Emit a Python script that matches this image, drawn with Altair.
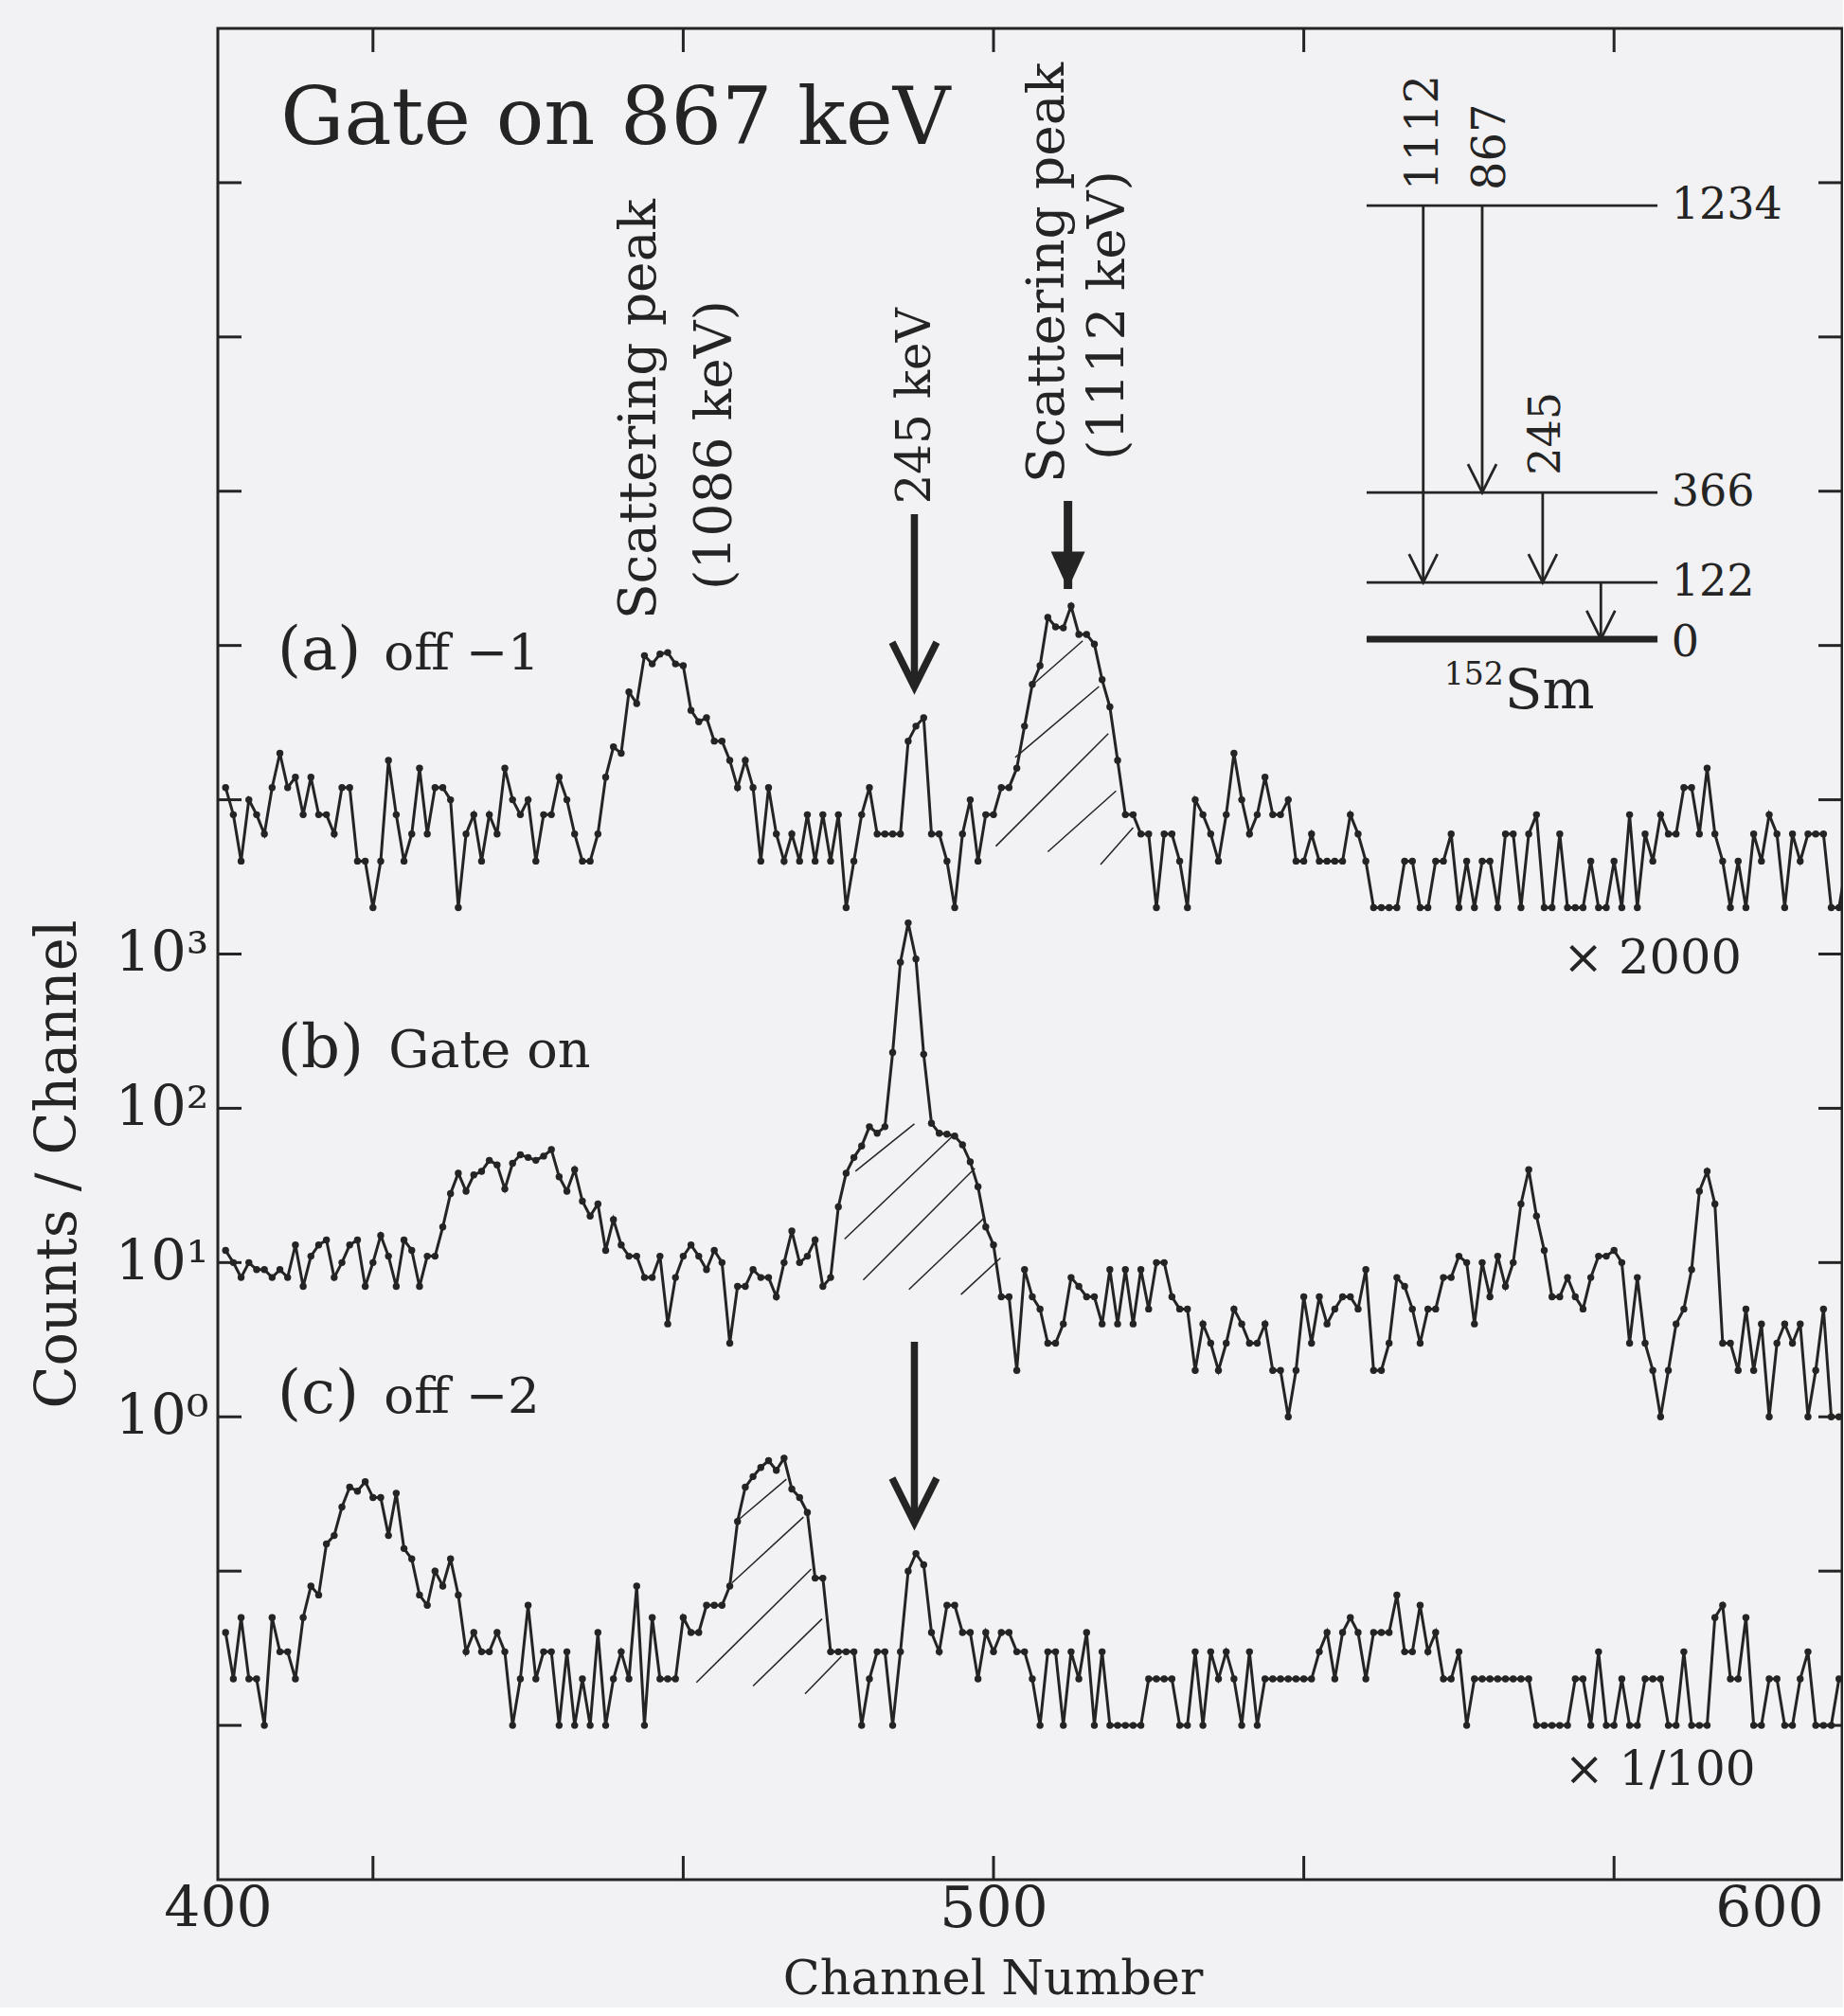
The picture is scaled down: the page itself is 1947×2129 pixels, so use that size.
import altair as alt
import pandas as pd

FONT = "DejaVu Serif"
INK = "#242424"
BG = "#f2f1f3"

# ---------------- data ----------------
FIRST_CHANNEL = 401

# (a) off -1 : counts per channel (plotted x 2000)
counts_off1 = [6,4,2,5,4,3,6,10,6,7,4,7,4,4,3,6,6,2,2,1,2,9,4,2,3,8,3,6,6,5,1,3,4,2,4,3,8,5,4,5,2,4,4,7,5,3,2,2,3,7,11,10,25,
               21,43,38,44,45,38,37,19,16,17,12,12,9,6,9,6,2,6,3,2,3,2,4,2,4,2,4,1,2,4,6,3,3,3,3,12,15,17,3,3,2,1,3,5,2,4,4,6,6,8,15,28,37,
               76,66,65,90,59,59,51,30,20,9,4,4,3,3,1,3,3,2,1,5,4,3,2,4,10,5,3,4,7,4,4,5,2,2,3,2,2,2,2,4,3,2,1,1,1,1,2,2,1,1,2,2,3,
               1,2,1,2,2,1,3,3,1,3,4,1,1,3,1,1,1,2,1,1,2,1,4,1,3,2,4,3,3,6,6,3,8,3,2,1,2,1,3,2,4,3,1,3,2,3,3,3,1,1,2]

# (b) Gate on : counts per channel (plotted x 1)
counts_gate = [12,10,8,10,9,9,8,9,8,13,7,11,13,14,8,10,13,14,7,10,15,11,7,14,12,7,11,11,17,28,38,29,37,39,46,43,30,44,50,48,46,49,54,36,29,40,25,20,24,12,19,13,11,
               11,8,8,11,4,8,11,13,11,9,12,10,3,7,7,9,8,8,6,10,16,10,11,14,7,8,23,38,48,57,76,69,76,230,885,1592,929,224,80,69,68,66,58,45,31,17,13,6,6,2,9,
               6,5,3,3,4,8,7,6,6,4,9,4,9,4,9,5,10,10,6,5,5,2,4,3,2,3,5,4,3,3,4,2,2,1,2,6,3,6,4,5,6,6,5,9,2,2,3,8,7,5,3,5,5,
               8,8,11,10,4,10,6,11,7,10,24,40,20,12,6,6,8,6,5,8,11,11,12,10,3,8,3,2,1,2,4,5,9,29,39,24,3,3,2,5,2,4,1,3,4,3,4,1,2,5,1,1]

# (c) off -2 : counts per channel (plotted x 1/100)
counts_off2 = [4,2,5,2,2,1,5,3,3,2,5,8,7,15,17,26,35,33,38,30,30,17,32,14,12,7,6,10,8,12,7,3,4,3,3,4,3,1,2,6,2,3,3,1,3,1,2,1,4,1,2,3,2,
               8,1,5,2,2,2,5,4,4,6,6,6,8,21,35,41,47,52,45,54,34,30,24,9,9,3,3,3,3,1,2,3,3,1,3,10,13,11,4,3,6,6,4,4,2,4,3,4,4,3,3,2,1,
               3,3,1,3,2,4,1,3,1,1,1,1,1,2,2,2,2,1,1,3,1,3,2,3,2,1,3,1,2,2,2,2,2,2,2,3,4,2,4,5,4,2,4,4,4,7,3,3,6,3,4,2,
               2,3,1,2,2,2,2,2,2,2,2,1,1,1,1,1,2,2,1,3,1,1,2,1,1,2,2,2,1,1,3,1,1,1,5,6,2,2,5,1,1,2,2,1,1,2,3,1,1,1,2]

scale_factors = {"a": 2000.0, "b": 1.0, "c": 0.01}

# hatching of the scattering components: (channel1, counts1, channel2, counts2)
hatch_off1 = [(502.8, 9.4, 513.6, 27.1), (500.3, 2.5, 514.8, 13.4), (505.0, 27.7, 511.5, 53.6),
              (507.0, 2.3, 515.8, 5.7), (513.8, 1.9, 518.0, 3.3)]
hatch_gate = [(482.2, 39.1, 489.8, 79.3), (480.8, 14.2, 494.9, 67.3), (483.2, 7.7, 497.6, 40.9),
              (489.1, 6.7, 498.9, 19.7), (495.8, 6.2, 500.9, 10.7)]
hatch_off2 = [(467.3, 21.9, 473.3, 39.4), (466.3, 8.4, 475.5, 22.4), (461.7, 1.9, 476.5, 10.3),
              (469.0, 1.8, 477.9, 4.9), (475.7, 1.6, 480.4, 2.8)]

# peak markers: channel, top value, tip value (plotted units)
marker_channels = [489.8, 509.6, 489.8]
marker_tops = [7.1e5, 8.65e5, 3.06]
marker_tips = [5.4e4, 2.32e5, 0.206]

# 152Sm level scheme (energies in keV) drawn in the upper right corner
level_energies = [1234, 366, 122, 0]
level_heights = [7.11e7, 9.82e5, 2.56e5, 1.10e5]
level_span = (548.1, 585.6)
transition_labels = ["1112", "867", "245", ""]
transition_channels = [555.4, 563.0, 570.8, 578.3]
transition_from = [7.11e7, 7.11e7, 9.82e5, 2.56e5]
transition_to = [2.56e5, 9.82e5, 2.56e5, 1.10e5]

x_tick_values = [420, 460, 500, 540, 580]
y_tick_values = [1e-2, 1e-1, 1e0, 1e1, 1e2, 1e3, 1e4, 1e5, 1e6, 1e7, 1e8]

# ---------------- tables ----------------
rows = []
for key, cnts in (("a", counts_off1), ("b", counts_gate), ("c", counts_off2)):
    for i, c in enumerate(cnts):
        rows.append({"series": key, "channel": FIRST_CHANNEL + i, "value": c * scale_factors[key]})
spec_df = pd.DataFrame(rows)

hrows = []
for key, segs in (("a", hatch_off1), ("b", hatch_gate), ("c", hatch_off2)):
    f = scale_factors[key]
    for c1, n1, c2, n2 in segs:
        hrows.append({"channel": c1, "value": n1 * f, "channel2": c2, "value2": n2 * f})
hatch_df = pd.DataFrame(hrows)

V_PATH = "M-1,-2L0,0L1,-2"
TRI_PATH = "M-1,-2.2L0,0L1,-2.2Z"

shaft_df = pd.DataFrame({"channel": marker_channels, "value": marker_tops, "value2": marker_tips,
                         "w": [7.5, 9, 7.5]})
head_open_df = pd.DataFrame({"channel": [marker_channels[0], marker_channels[2]],
                             "value": [marker_tips[0], marker_tips[2]],
                             "size": [2209, 2209], "w": [7.5, 7.5], "shape": [V_PATH, V_PATH]})
head_fill_df = pd.DataFrame({"channel": [marker_channels[1]], "value": [marker_tips[1]],
                             "size": [1296], "shape": [TRI_PATH]})

level_df = pd.DataFrame({"channel": [level_span[0]] * 4, "channel2": [level_span[1]] * 4,
                         "value": level_heights, "w": [2.8, 2.8, 2.8, 7]})
trans_df = pd.DataFrame({"channel": transition_channels, "value": transition_from,
                         "value2": transition_to})
trans_head_df = pd.DataFrame({"channel": transition_channels, "value": transition_to,
                              "shape": [V_PATH] * 4})

xt_df = pd.DataFrame({"channel": x_tick_values})
yt_df = pd.DataFrame({"value": y_tick_values})

# text annotations in data coordinates
text_plain = pd.DataFrame([
    {"label": "Gate on 867 keV", "channel": 408.1, "value": 1.78e8, "size": 84},
    {"label": "(a)", "channel": 407.7, "value": 6.98e4, "size": 64},
    {"label": "off \u22121", "channel": 421.4, "value": 6.98e4, "size": 53},
    {"label": "(b)", "channel": 407.7, "value": 185, "size": 64},
    {"label": "Gate on", "channel": 422.0, "value": 185, "size": 54},
    {"label": "(c)", "channel": 407.7, "value": 1.06, "size": 64},
    {"label": "off \u22122", "channel": 421.4, "value": 1.06, "size": 53},
    {"label": "Sm", "channel": 565.9, "value": 3.91e4, "size": 58},
    {"label": "\u00d7 2000", "channel": 573.4, "value": 748, "size": 51},
    {"label": "\u00d7 1/100", "channel": 573.6, "value": 0.0041, "size": 50},
])
text_middle = pd.DataFrame([
    {"label": str(level_energies[0]), "channel": 587.4, "value": level_heights[0], "size": 46},
    {"label": str(level_energies[1]), "channel": 587.4, "value": level_heights[1], "size": 46},
    {"label": str(level_energies[2]), "channel": 587.4, "value": level_heights[2], "size": 46},
    {"label": str(level_energies[3]), "channel": 587.4, "value": 1.04e5, "size": 46},
    {"label": "152", "channel": 558.1, "value": 6.41e4, "size": 33},
])
text_rot_center = pd.DataFrame([
    {"label": "Scattering peak", "channel": 454.3, "value": 3.40e6, "size": 55},
    {"label": "(1086 keV)", "channel": 464.1, "value": 1.99e6, "size": 55},
    {"label": "245 keV", "channel": 490.0, "value": 3.56e6, "size": 50},
    {"label": "Scattering peak", "channel": 507.0, "value": 2.61e7, "size": 55},
    {"label": "(1112 keV)", "channel": 514.8, "value": 1.38e7, "size": 55},
])
text_rot_start = pd.DataFrame([
    {"label": transition_labels[0], "channel": 555.6, "value": 8.91e7, "size": 48},
    {"label": transition_labels[1], "channel": 564.2, "value": 8.91e7, "size": 48},
    {"label": transition_labels[2], "channel": 571.3, "value": 1.27e6, "size": 46},
])

# ---------------- scales / axes ----------------
W, H = 1715, 1955
xs = alt.Scale(domain=[400, 609.4], nice=False, zero=False)
ys = alt.Scale(type="log", domain=[1e-3, 1e9], nice=False)

x_axis = alt.Axis(values=[400, 500, 600], format="d", ticks=False, domain=False, grid=False,
                  labelFont=FONT, labelFontSize=60, labelColor=INK, labelPadding=2, labelFlush=False,
                  title="Channel Number", titleFont=FONT, titleFontSize=51, titleFontWeight="normal",
                  titleColor=INK, titleX=818, titleY=120, titleAlign="center", titleBaseline="alphabetic")
y_axis = alt.Axis(values=[1, 10, 100, 1000], ticks=False, domain=False, grid=False,
                  labelExpr="datum.value > 500 ? '10\u00b3' : datum.value > 50 ? '10\u00b2' : datum.value > 5 ? '10\u00b9' : '10\u2070'",
                  labelFont=FONT, labelFontSize=59, labelColor=INK, labelPadding=10, labelFlush=False,
                  title="Counts / Channel", titleFont=FONT, titleFontSize=59, titleFontWeight="normal",
                  titleColor=INK, titleAngle=270, titleX=-169, titleY=1199, titleAlign="center",
                  titleBaseline="middle")


def X(field="channel"):
    return alt.X(f"{field}:Q", scale=xs, axis=x_axis)


def Y(field="value"):
    return alt.Y(f"{field}:Q", scale=ys, axis=y_axis)


hatch = alt.Chart(hatch_df).mark_rule(color=INK, strokeWidth=1.5).encode(
    x=X(), y=Y(), x2="channel2:Q", y2="value2:Q")

lines = alt.Chart(spec_df).mark_line(color=INK, strokeWidth=3, clip=True).encode(
    x=X(), y=Y(), detail="series:N")
dots = alt.Chart(spec_df).mark_circle(color=INK, size=55, opacity=1, clip=True).encode(
    x=X(), y=Y(), detail="series:N")

shafts = alt.Chart(shaft_df).mark_rule(color=INK).encode(
    x=X(), y=Y(), y2="value2:Q", strokeWidth=alt.StrokeWidth("w:Q", scale=None))
heads_open = alt.Chart(head_open_df).mark_point(color=INK, filled=False, opacity=1, strokeJoin="miter").encode(
    x=X(), y=Y(), shape=alt.Shape("shape:N", scale=None), size=alt.Size("size:Q", scale=None),
    strokeWidth=alt.StrokeWidth("w:Q", scale=None))
heads_fill = alt.Chart(head_fill_df).mark_point(color=INK, filled=True, opacity=1).encode(
    x=X(), y=Y(), shape=alt.Shape("shape:N", scale=None), size=alt.Size("size:Q", scale=None))

levels = alt.Chart(level_df).mark_rule(color=INK).encode(
    x=X(), x2="channel2:Q", y=Y(), strokeWidth=alt.StrokeWidth("w:Q", scale=None))
trans = alt.Chart(trans_df).mark_rule(color=INK, strokeWidth=2.8).encode(
    x=X(), y=Y(), y2="value2:Q")
trans_heads = alt.Chart(trans_head_df).mark_point(color=INK, filled=False, opacity=1, size=900,
                                                   strokeWidth=2.8).encode(
    x=X(), y=Y(), shape=alt.Shape("shape:N", scale=None))


def text_layer(df, align, baseline, angle=0):
    return alt.Chart(df).mark_text(align=align, baseline=baseline, angle=angle, font=FONT,
                                   color=INK).encode(
        x=X(), y=Y(), text="label:N", size=alt.Size("size:Q", scale=None))


t1 = text_layer(text_plain, "left", "alphabetic")
t2 = text_layer(text_middle, "left", "middle")
t3 = text_layer(text_rot_center, "center", "middle", 270)
t4 = text_layer(text_rot_start, "left", "middle", 270)

tick_top = alt.Chart(xt_df).mark_rule(color=INK, strokeWidth=3).encode(
    x=X(), y=alt.value(0), y2=alt.value(25))
tick_bottom = alt.Chart(xt_df).mark_rule(color=INK, strokeWidth=3).encode(
    x=X(), y=alt.value(H - 25), y2=alt.value(H))
tick_left = alt.Chart(yt_df).mark_rule(color=INK, strokeWidth=3).encode(
    y=Y(), x=alt.value(0), x2=alt.value(25))
tick_right = alt.Chart(yt_df).mark_rule(color=INK, strokeWidth=3).encode(
    y=Y(), x=alt.value(W - 25), x2=alt.value(W))

chart = alt.layer(
    hatch, lines, dots, shafts, heads_open, heads_fill, levels, trans, trans_heads,
    t1, t2, t3, t4, tick_top, tick_bottom, tick_left, tick_right
).properties(
    width=W, height=H, background=BG,
    padding={"left": 230, "top": 30, "right": 1, "bottom": 135},
    autosize=alt.AutoSizeParams(type="none"),
).configure_view(stroke=INK, strokeWidth=3)

chart.save("out.html", embed_options={"renderer": "svg", "actions": False})
